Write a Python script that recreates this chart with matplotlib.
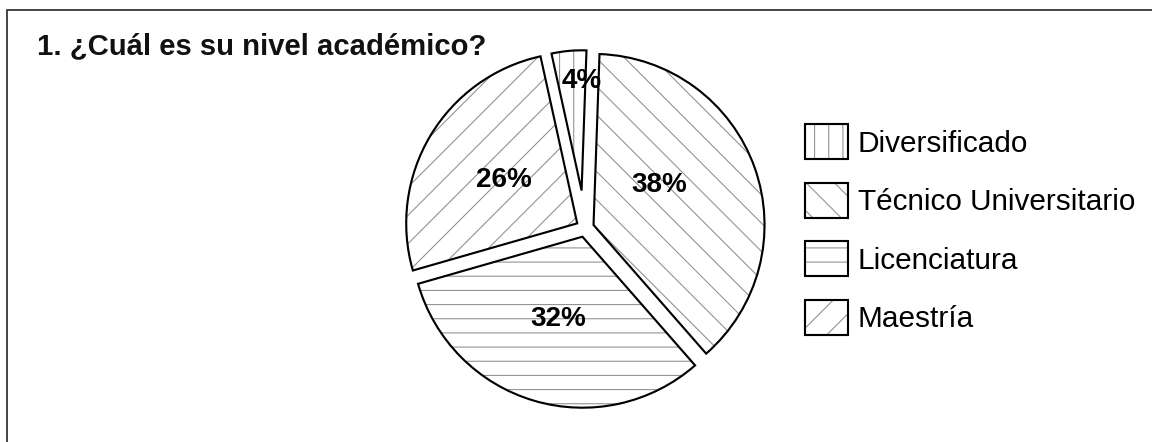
import numpy as np
import matplotlib
matplotlib.use("Agg")
import matplotlib.pyplot as plt
from matplotlib.patches import Rectangle

# Data
categories = ["Diversificado", "Técnico Universitario", "Licenciatura", "Maestría"]
shares = [4, 38, 32, 26]
hatches = ["|", "\\", "-", "/"]
explode = [0.22, 0.053, 0.053, 0.053]
radius_scale = [0.82, 1, 1, 1]
label_dist = [0.78, 0.45, 0.5, 0.5]
label_shift = [-5, 12, 0, 0]  # degrees

title = "1. ¿Cuál es su nivel académico?"

DPI = 85
W, H = 1152, 442
plt.rcParams["font.family"] = ["Liberation Sans", "DejaVu Sans"]
plt.rcParams["hatch.linewidth"] = 0.9

fig = plt.figure(figsize=(W / DPI, H / DPI), dpi=DPI, facecolor="white")

# pie axes placed by pixel geometry: centre (585, 228 from top), radius 171 px
r_px = 171
lim = 1.25
half = lim * r_px
cx, cy = 585, H - 228
ax = fig.add_axes([(cx - half) / W, (cy - half) / H, 2 * half / W, 2 * half / H])

start = 88 + 360 * shares[0] / 100

# hatched layer (grey hatch lines)
wedges_h, _ = ax.pie(shares, explode=explode, startangle=start,
                     counterclock=False, colors=["white"] * 4,
                     wedgeprops=dict(edgecolor="#8f8f8f", linewidth=0))
# black outline layer
wedges_o, _ = ax.pie(shares, explode=explode, startangle=start,
                     counterclock=False, colors=["none"] * 4,
                     wedgeprops=dict(edgecolor="black", linewidth=1.8, fill=False))

for wh, wo, h, k in zip(wedges_h, wedges_o, hatches, radius_scale):
    wh.set_hatch(h)
    wh.set_radius(wh.r * k)
    wo.set_radius(wo.r * k)

# percentage labels
for w, s, d, sh in zip(wedges_o, shares, label_dist, label_shift):
    ang = np.deg2rad((w.theta1 + w.theta2) / 2 + sh)
    x = w.center[0] + d * w.r * np.cos(ang)
    y = w.center[1] + d * w.r * np.sin(ang)
    ax.text(x, y, f"{s}%", ha="center", va="center", fontsize=23.5,
            fontweight="bold", color="black")

ax.set_xlim(-lim, lim)
ax.set_ylim(-lim, lim)
ax.set_aspect("equal")
ax.axis("off")

# title
fig.text(37 / W, 1 - 54 / H, title, ha="left", va="baseline",
         fontsize=24.8, fontweight="bold", color="#111111")

# legend
handles = [(a, b) for a, b in zip(wedges_h, wedges_o)]
leg = fig.legend(handles, categories, loc="upper left",
                 bbox_to_anchor=(805 / W, 1 - 124 / H), frameon=False,
                 fontsize=25.2, handlelength=1.45, handleheight=1.45,
                 handletextpad=0.33, labelspacing=0.78, borderpad=0,
                 borderaxespad=0)

# outer frame (only top and left visible in the crop)
fig.add_artist(Rectangle((6.5 / W, -0.2), 1.5, 1.2 - 9.5 / H,
                         transform=fig.transFigure, fill=False,
                         edgecolor="#333333", linewidth=1.5))

fig.savefig("out.png", dpi=DPI, facecolor="white")
